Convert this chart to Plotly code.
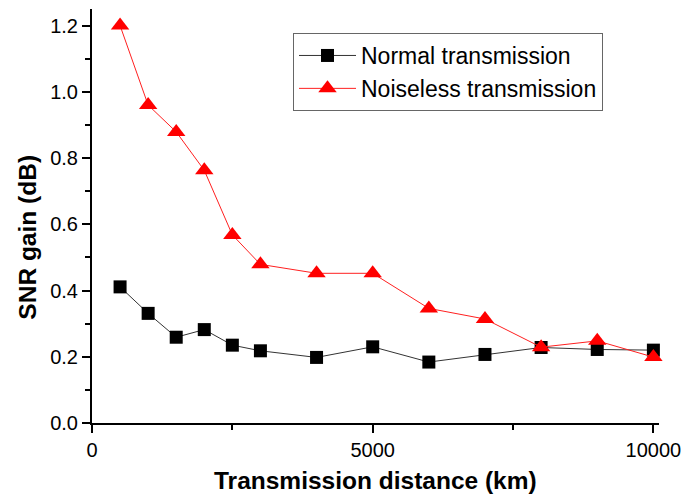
import plotly.graph_objects as go

distance = [500, 1000, 1500, 2000, 2500, 3000, 4000, 5000, 6000, 7000, 8000, 9000, 10000]
normal = [0.411, 0.331, 0.259, 0.282, 0.235, 0.218, 0.198, 0.230, 0.184, 0.207, 0.228, 0.222, 0.220]
noiseless = [1.200, 0.960, 0.879, 0.763, 0.568, 0.479, 0.452, 0.452, 0.346, 0.314, 0.229, 0.248, 0.199]

x_tickvals = [0, 5000, 10000]
x_ticktext = ["0", "5000", "10000"]
y_tickvals = [0, 0.2, 0.4, 0.6, 0.8, 1.0, 1.2]
y_ticktext = ["0.0", "0.2", "0.4", "0.6", "0.8", "1.0", "1.2"]

font = "Arial, Liberation Sans, sans-serif"

fig = go.Figure()
fig.add_trace(go.Scatter(
    x=distance, y=normal, mode="lines+markers", name="Normal transmission",
    line=dict(color="#333333", width=1),
    marker=dict(symbol="square", size=13, color="black"),
    cliponaxis=False,
))
fig.add_trace(go.Scatter(
    x=distance, y=noiseless, mode="lines+markers", name="Noiseless transmission",
    line=dict(color="#ff2020", width=1),
    marker=dict(symbol="triangle-up", size=16, color="#ff0000"),
    cliponaxis=False,
))

fig.update_layout(
    width=683, height=496,
    margin=dict(l=92, r=24, t=9, b=73, autoexpand=False),
    paper_bgcolor="white", plot_bgcolor="white",
    font=dict(family=font, color="black"),
    showlegend=True,
    legend=dict(
        x=0.3545, y=0.942, xanchor="left", yanchor="top",
        bordercolor="#666666", borderwidth=1, bgcolor="white",
        font=dict(size=23, family=font), tracegroupgap=0,
        itemwidth=57,
    ),
    annotations=[
        dict(text="<b>Transmission distance (km)</b>", xref="paper", yref="paper",
             x=0.5, y=-0.14, xanchor="center", yanchor="middle", showarrow=False,
             font=dict(size=24.5, family=font)),
        dict(text="<b>SNR gain (dB)</b>", xref="paper", yref="paper",
             x=-0.113, y=0.45, xanchor="center", yanchor="middle", showarrow=False,
             textangle=-90, font=dict(size=24.5, family=font)),
    ],
)

fig.update_xaxes(
    range=[0, 10100], showgrid=False, zeroline=False, automargin=False,
    showline=True, linecolor="black", linewidth=2,
    ticks="outside", ticklen=8, tickwidth=2, tickcolor="black",
    tickvals=x_tickvals, ticktext=x_ticktext,
    minor=dict(tickvals=[2500, 7500], ticks="outside", ticklen=5, tickwidth=2, tickcolor="black"),
    tickfont=dict(size=20, family=font),
)
fig.update_yaxes(
    range=[0, 1.25], showgrid=False, zeroline=False, automargin=False,
    showline=True, linecolor="black", linewidth=2,
    ticks="outside", ticklen=8, tickwidth=2, tickcolor="black",
    tickvals=y_tickvals, ticktext=y_ticktext,
    minor=dict(tickvals=[0.1, 0.3, 0.5, 0.7, 0.9, 1.1], ticks="outside", ticklen=5, tickwidth=2, tickcolor="black"),
    tickfont=dict(size=20, family=font),
)

fig.write_html("out.html")
